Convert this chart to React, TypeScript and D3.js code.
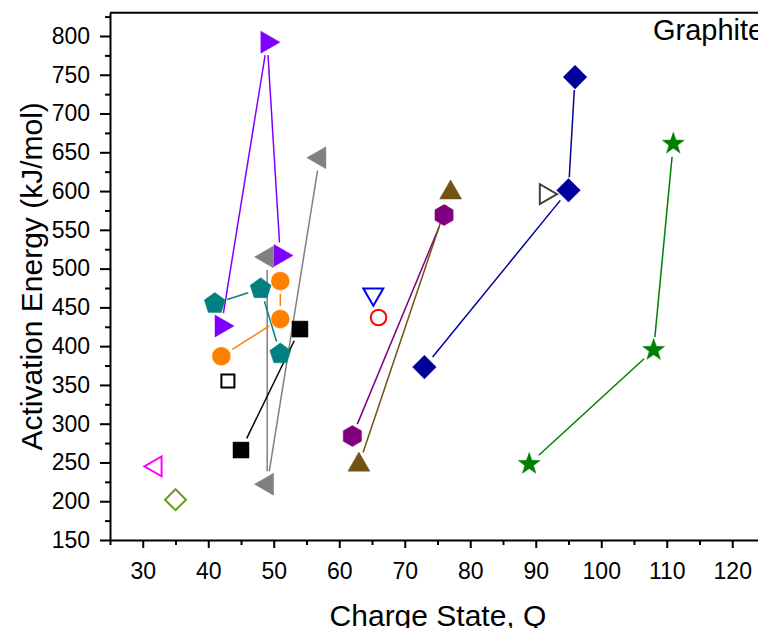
import React, { useEffect, useRef } from "react";
import * as d3 from "d3";

// charge state Q / activation energy (kJ/mol), one pair of arrays per series
const violetQ = [42, 49, 51];
const violetE = [426, 792, 517];
const grayQ = [49, 49, 57];
const grayE = [515, 222, 643];
const tealQ = [41, 48, 51];
const tealE = [455, 474, 390];
const orangeQ = [42, 51, 51];
const orangeE = [387, 435, 484];
const blackQ = [45, 54];
const blackE = [266, 422];
const openSquareQ = [43];
const openSquareE = [355];
const magentaQ = [32];
const magentaE = [245];
const oliveQ = [35];
const oliveE = [202];
const blueQ = [65.2];
const blueE = [467];
const redQ = [66];
const redE = [437];
const purpleQ = [62, 76];
const purpleE = [284, 569];
const brownQ = [63, 77];
const brownE = [247, 598];
const navyQ = [73, 95, 96];
const navyE = [373, 601, 747];
const darkGrayQ = [91.5];
const darkGrayE = [596];
const greenQ = [89, 108, 111];
const greenE = [248, 395, 661];

const xMajor = d3.range(30, 121, 10);
const xMinor = d3.range(25, 126, 10);
const yMajor = d3.range(150, 801, 50);
const yMinor = d3.range(175, 826, 50);

const series = [
  { q: violetQ, e: violetE, color: "#8000ff", shape: "triRight", fill: true },
  { q: grayQ, e: grayE, color: "#808080", shape: "triLeft", fill: true },
  { q: tealQ, e: tealE, color: "#008080", shape: "pentagon", fill: true },
  { q: orangeQ, e: orangeE, color: "#ff8000", shape: "circle", fill: true },
  { q: blackQ, e: blackE, color: "#000000", shape: "square", fill: true },
  { q: openSquareQ, e: openSquareE, color: "#000000", shape: "squareOpen", fill: false },
  { q: magentaQ, e: magentaE, color: "#ff00ff", shape: "triLeftOpen", fill: false },
  { q: oliveQ, e: oliveE, color: "#66a11e", shape: "diamondOpen", fill: false },
  { q: blueQ, e: blueE, color: "#0000ff", shape: "triDown", fill: false },
  { q: redQ, e: redE, color: "#ff0000", shape: "circleOpen", fill: false },
  { q: purpleQ, e: purpleE, color: "#800080", shape: "hexagon", fill: true },
  { q: brownQ, e: brownE, color: "#735314", shape: "triUp", fill: true },
  { q: navyQ, e: navyE, color: "#00009c", shape: "diamond", fill: true },
  { q: darkGrayQ, e: darkGrayE, color: "#404040", shape: "triRightOpen", fill: false },
  { q: greenQ, e: greenE, color: "#008000", shape: "star", fill: true },
];

const polygon = (n: number, r: number, rot: number) => {
  const pts = d3.range(n).map((i) => {
    const a = rot + (i * 2 * Math.PI) / n;
    return [r * Math.sin(a), -r * Math.cos(a)] as [number, number];
  });
  return d3.line()(pts) + "Z";
};

const star = (R: number) => {
  const pts = d3.range(10).map((i) => {
    const a = (i * Math.PI) / 5;
    const r = i % 2 === 0 ? R : R * 0.4;
    return [r * Math.sin(a), -r * Math.cos(a)] as [number, number];
  });
  return d3.line()(pts) + "Z";
};

const markerPath = (shape: string) => {
  switch (shape) {
    case "triRight":
      return polygon(3, 12.7, Math.PI / 2);
    case "triLeft":
      return polygon(3, 12.7, -Math.PI / 2);
    case "triUp":
      return polygon(3, 12.7, 0);
    case "triDown":
      return polygon(3, 11.5, Math.PI);
    case "triLeftOpen":
      return polygon(3, 11.5, -Math.PI / 2);
    case "triRightOpen":
      return polygon(3, 11.5, Math.PI / 2);
    case "pentagon":
      return polygon(5, 11, 0);
    case "hexagon":
      return polygon(6, 10.5, 0);
    case "square":
      return polygon(4, 11.3, Math.PI / 4);
    case "squareOpen":
      return polygon(4, 9.2, Math.PI / 4);
    case "diamond":
      return polygon(4, 11.8, 0);
    case "diamondOpen":
      return polygon(4, 10.5, 0);
    case "star":
      return star(11.5);
    default:
      return null;
  }
};

const App = () => {
  const ref = useRef<SVGSVGElement>(null);

  useEffect(() => {
    if (!ref.current) return;
    const svg = d3.select(ref.current);
    svg.selectAll("*").remove();

    const width = 758;
    const height = 628;
    const left = 110;
    const bottom = 540;

    const x = d3.scaleLinear().domain([25, 125]).range([left, left + 100 * 6.55]);
    const y = d3.scaleLinear().domain([150, 830]).range([bottom, bottom - 680 * 0.7754]);

    svg.attr("width", width).attr("height", height);
    const font = "'Liberation Sans', Arial, sans-serif";

    // top frame line
    svg
      .append("line")
      .attr("x1", left)
      .attr("x2", width + 10)
      .attr("y1", y(830))
      .attr("y2", y(830))
      .attr("stroke", "#000")
      .attr("stroke-width", 2);

    // x axis
    const gx = svg.append("g").attr("transform", `translate(0,${bottom})`);
    gx.append("g")
      .call(d3.axisBottom(x).tickValues(xMinor).tickSize(5).tickFormat(() => ""))
      .call((g) => g.select(".domain").remove());
    gx.append("g")
      .call(d3.axisBottom(x).tickValues(xMajor).tickSize(8).tickPadding(15).tickSizeOuter(0))
      .call((g) => g.select(".domain").attr("stroke-width", 2));
    gx.selectAll("line").attr("stroke-width", 2);
    gx.selectAll("text").attr("font-size", 23).attr("font-family", font).attr("fill", "#000");

    // y axis
    const gy = svg.append("g").attr("transform", `translate(${left},0)`);
    gy.append("g")
      .call(d3.axisLeft(y).tickValues(yMinor).tickSize(5).tickFormat(() => ""))
      .call((g) => g.select(".domain").remove());
    gy.append("g")
      .call(d3.axisLeft(y).tickValues(yMajor).tickSize(10).tickPadding(10).tickSizeOuter(0))
      .call((g) => g.select(".domain").attr("stroke-width", 2));
    gy.selectAll("line").attr("stroke-width", 2);
    gy.selectAll("text").attr("font-size", 23).attr("font-family", font).attr("fill", "#000");

    // connecting lines, shortened so they stop short of the markers
    const gap = 13;
    series.forEach((s) => {
      const pts = s.q.map((q, i) => [x(q), y(s.e[i])]);
      for (let i = 0; i < pts.length - 1; i++) {
        const [x1, y1] = pts[i];
        const [x2, y2] = pts[i + 1];
        const len = Math.hypot(x2 - x1, y2 - y1);
        if (len <= 2 * gap) continue;
        const ux = (x2 - x1) / len;
        const uy = (y2 - y1) / len;
        svg
          .append("line")
          .attr("x1", x1 + ux * gap)
          .attr("y1", y1 + uy * gap)
          .attr("x2", x2 - ux * gap)
          .attr("y2", y2 - uy * gap)
          .attr("stroke", s.color)
          .attr("stroke-width", 1.5);
      }
    });

    // markers
    series.forEach((s) => {
      const g = svg.append("g");
      s.q.forEach((q, i) => {
        const cx = x(q);
        const cy = y(s.e[i]);
        if (s.shape === "circle" || s.shape === "circleOpen") {
          g.append("circle")
            .attr("cx", cx)
            .attr("cy", cy)
            .attr("r", s.fill ? 9.5 : 7.8)
            .attr("fill", s.fill ? s.color : "none")
            .attr("stroke", s.fill ? "#fff" : s.color)
            .attr("stroke-width", s.fill ? 0.5 : 2);
        } else {
          g.append("path")
            .attr("d", markerPath(s.shape))
            .attr("transform", `translate(${cx},${cy})`)
            .attr("fill", s.fill ? s.color : "none")
            .attr("stroke", s.color)
            .attr("stroke-width", s.fill ? 0.5 : 2)
            .attr("stroke-linejoin", "miter");
        }
      });
    });

    // titles
    svg
      .append("text")
      .attr("x", 438)
      .attr("y", 626)
      .attr("text-anchor", "middle")
      .attr("font-size", 30)
      .attr("font-family", font)
      .text("Charge State, Q");

    svg
      .append("text")
      .attr("transform", `translate(42,${(y(150) + y(830)) / 2}) rotate(-90)`)
      .attr("text-anchor", "middle")
      .attr("font-size", 30)
      .attr("font-family", font)
      .text("Activation Energy (kJ/mol)");

    svg
      .append("text")
      .attr("x", 653)
      .attr("y", 40)
      .attr("font-size", 29)
      .attr("font-family", font)
      .text("Graphite");
  }, []);

  return (
    <svg
      ref={ref}
      style={{ position: "absolute", left: 0, top: 0, display: "block", background: "#fff" }}
    />
  );
};

export default App;
